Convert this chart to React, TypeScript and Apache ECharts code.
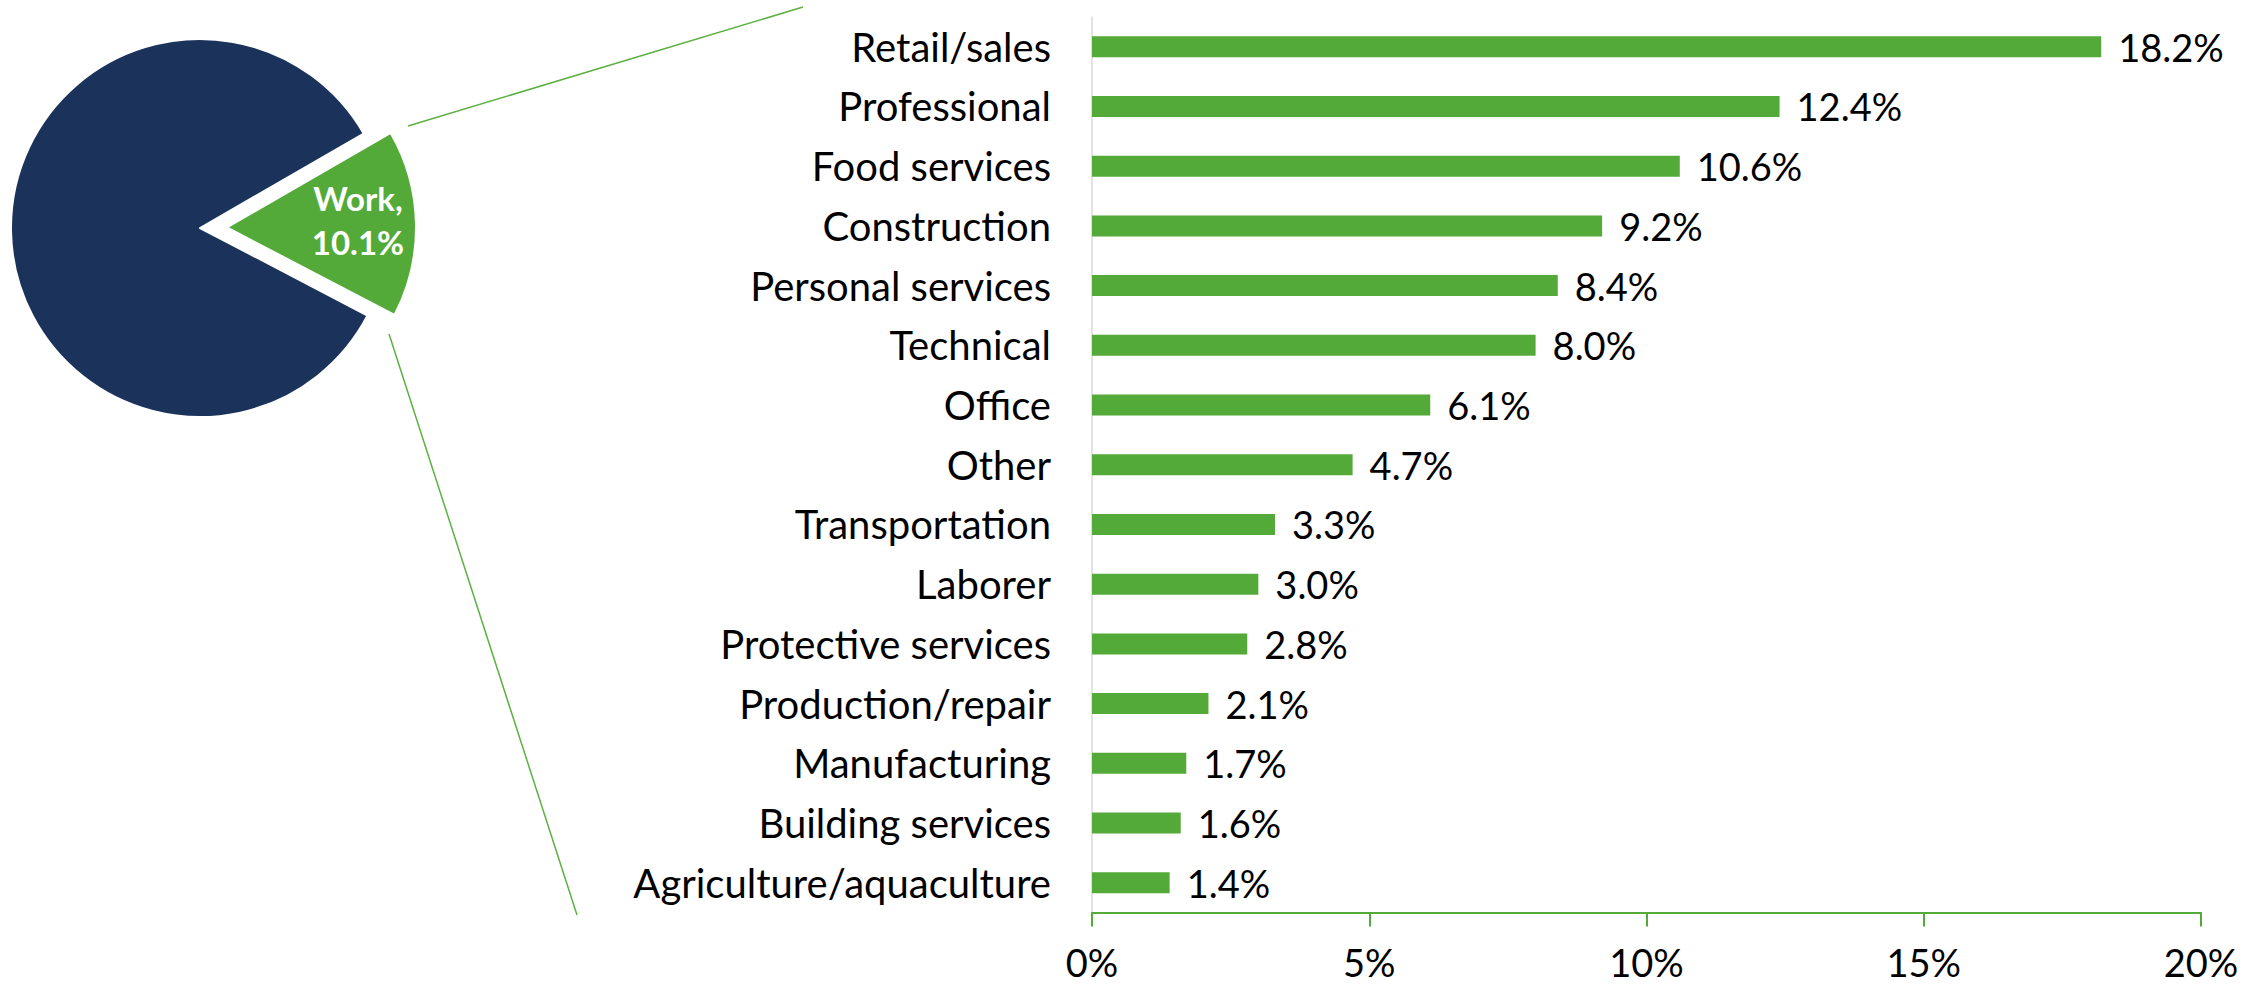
import React, { useEffect, useRef } from "react";
import * as echarts from "echarts";

// Occupation breakdown (bar chart, % share)
const categories = [
  "Retail/sales",
  "Professional",
  "Food services",
  "Construction",
  "Personal services",
  "Technical",
  "Office",
  "Other",
  "Transportation",
  "Laborer",
  "Protective services",
  "Production/repair",
  "Manufacturing",
  "Building services",
  "Agriculture/aquaculture",
];
const shares = [18.2, 12.4, 10.6, 9.2, 8.4, 8.0, 6.1, 4.7, 3.3, 3.0, 2.8, 2.1, 1.7, 1.6, 1.4];

// Axis ticks (percent)
const xMin = 0;
const xMax = 20;
const xStep = 5;

// Pie: slice shares as drawn in the picture; the slice label reads "Work, 10.1%"
const pieNames = ["Work", "Not work"];
const pieDrawnShares = [16.0, 84.0];
const workLabelLines = ["Work,", "10.1%"];

const GREEN = "#53AA39";
const NAVY = "#1B325A";
const FONT = "Lato, 'Noto Sans', sans-serif";

export default function App() {
  const ref = useRef<HTMLDivElement>(null);

  useEffect(() => {
    if (!ref.current) return;
    const chart = echarts.init(ref.current, null, { renderer: "svg" });

    const option: any = {
      animation: false,
      backgroundColor: "#ffffff",
      textStyle: { fontFamily: FONT },
      grid: { left: 1092, right: 59, top: 16.9, bottom: 75.4, containLabel: false },
      xAxis: {
        type: "value",
        min: xMin,
        max: xMax,
        interval: xStep,
        axisLine: { show: true, lineStyle: { color: GREEN, width: 2 } },
        axisTick: { show: true, length: 14, lineStyle: { color: GREEN, width: 2 } },
        splitLine: { show: false },
        axisLabel: {
          margin: 30,
          color: "#000",
          fontSize: 38,
          fontFamily: FONT,
          formatter: (v: number) => `${v}%`,
        },
      },
      yAxis: {
        type: "category",
        inverse: true,
        data: categories,
        axisLine: { show: true, lineStyle: { color: "#d9d9d9", width: 1.5 } },
        axisTick: { show: false },
        axisLabel: { margin: 41, color: "#000", fontSize: 40, fontFamily: FONT },
      },
      series: [
        {
          type: "bar",
          data: shares,
          barWidth: 21,
          itemStyle: { color: GREEN },
          label: {
            show: true,
            position: "right",
            distance: 17,
            color: "#000",
            fontSize: 38,
            fontFamily: FONT,
            formatter: (p: any) => `${Number(p.value).toFixed(1)}%`,
          },
          emphasis: { disabled: true },
        },
        {
          type: "pie",
          center: [200, 228],
          radius: 189,
          startAngle: 30,
          clockwise: true,
          selectedMode: "single",
          selectedOffset: 27,
          label: { show: false },
          labelLine: { show: false },
          emphasis: { disabled: true },
          itemStyle: { borderColor: "#ffffff", borderWidth: 2 },
          data: [
            { name: pieNames[0], value: pieDrawnShares[0], selected: true, itemStyle: { color: GREEN } },
            { name: pieNames[1], value: pieDrawnShares[1], itemStyle: { color: NAVY } },
          ],
        },
      ],
      graphic: [
        {
          type: "line",
          shape: { x1: 408, y1: 126, x2: 803, y2: 7 },
          style: { stroke: "#5DB043", lineWidth: 1.5 },
        },
        {
          type: "line",
          shape: { x1: 389, y1: 334, x2: 577, y2: 915 },
          style: { stroke: "#5DB043", lineWidth: 1.5 },
        },
        {
          type: "text",
          x: 358,
          y: 220,
          z: 100,
          style: {
            text: workLabelLines.join("\n"),
            fill: "#ffffff",
            fontSize: 33,
            fontWeight: "bold",
            fontFamily: FONT,
            align: "center",
            verticalAlign: "middle",
            lineHeight: 44,
          },
        },
      ],
    };

    chart.setOption(option);
    return () => chart.dispose();
  }, []);

  return (
    <div
      ref={ref}
      style={{ position: "fixed", left: 0, top: 0, width: 2260, height: 988, background: "#fff" }}
    />
  );
}
